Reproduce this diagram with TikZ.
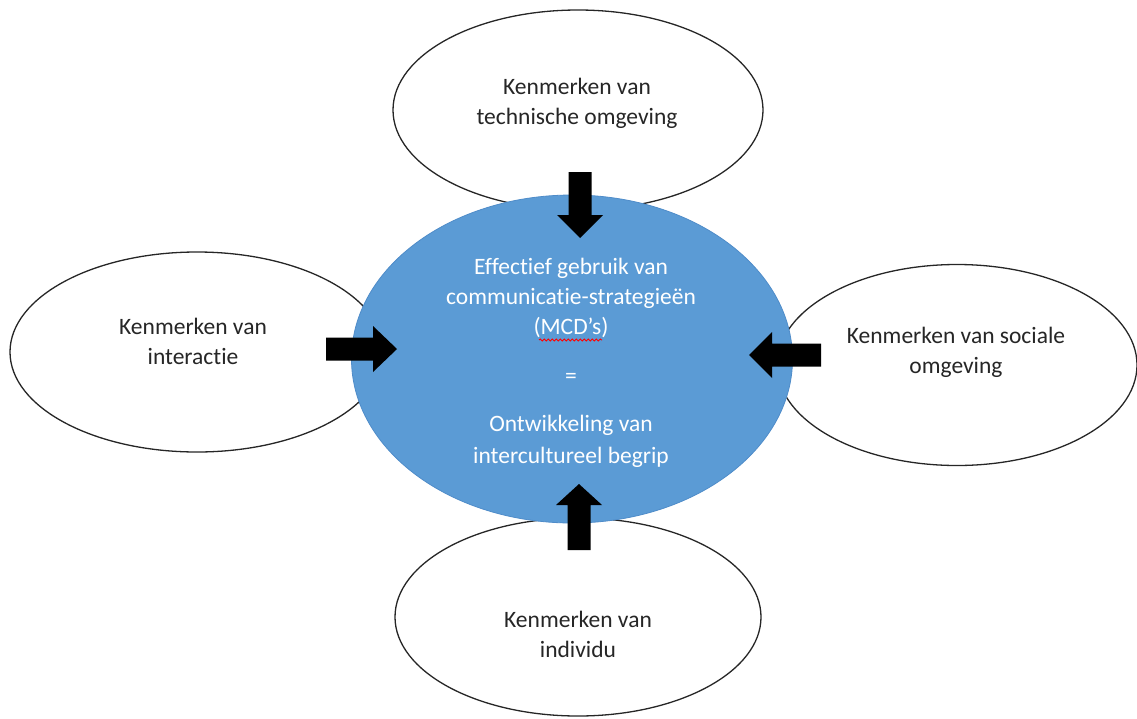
\documentclass[tikz,border=0pt]{standalone}
\usepackage{fontspec}
\setmainfont{Carlito}[Ligatures={NoCommon}, Contextuals={NoAlternate}]
\usetikzlibrary{shapes.geometric,decorations.pathmorphing}
\definecolor{centerblue}{HTML}{5B9BD5}
\definecolor{centerline}{HTML}{4F8CC9}
\definecolor{txt}{HTML}{262626}
\tikzset{
  outer/.style={ellipse, draw=black!85, line width=1.3pt, fill=white, inner sep=0pt},
  lbl/.style={align=center, text=txt, font=\fontsize{23.5}{30}\selectfont},
  pics/blockarrow/.style args={#1/#2}{code={
    \fill[black] (0,-11.5) -- (#2,-11.5) -- (#2,-23) -- (#1,0) -- (#2,23) -- (#2,11.5) -- (0,11.5) -- cycle;}}
}
\begin{document}
\begin{tikzpicture}[x=1pt,y=-1pt]
\useasboundingbox (0,0) rectangle (1137,718);
% outer ellipses
\node[outer, minimum width=370, minimum height=200] (top) at (578,110) {};
\node[outer, minimum width=374, minimum height=200] (left) at (197,352) {};
\node[outer, minimum width=360, minimum height=201] (right) at (957,365) {};
\node[outer, minimum width=366, minimum height=198] (bottom) at (578,617) {};
% texts of outer ellipses
\node[lbl] (toptext) at (577,103) {Kenmerken van\\technische omgeving};
\node[lbl] (lefttext) at (193,341) {Kenmerken van\\interactie};
\node[lbl] (righttext) at (956,352) {Kenmerken van sociale\\omgeving};
\node[lbl] (bottomtext) at (578,634) {Kenmerken van\\individu};
% central ellipse
\node[ellipse, fill=centerblue, draw=centerline, line width=0.8pt, inner sep=0pt,
      minimum width=441, minimum height=328] (core) at (572,359) {};
\node[lbl, text=white] (coretext) at (571,363) {Effectief gebruik van\\communicatie-strategieën\\(MCD’s)\\[19pt]=\\[18pt]Ontwikkeling van\\[2pt]intercultureel begrip};
\coordinate (sqa) at (539,340);
\coordinate (sqb) at (602,340);
\draw[red, line width=0.9pt, decorate, decoration={snake, amplitude=1pt, segment length=4pt}] (sqa) -- (sqb);
% block arrows
\pic (arrowtop) [rotate=-90] at (580,172) {blockarrow=66/43};
\pic (arrowleft) at (326,349) {blockarrow=71/47};
\pic (arrowright) [rotate=180] at (821,355) {blockarrow=72/49};
\pic (arrowbottom) [rotate=90] at (579,550) {blockarrow=66/45};
\end{tikzpicture}
\end{document}
